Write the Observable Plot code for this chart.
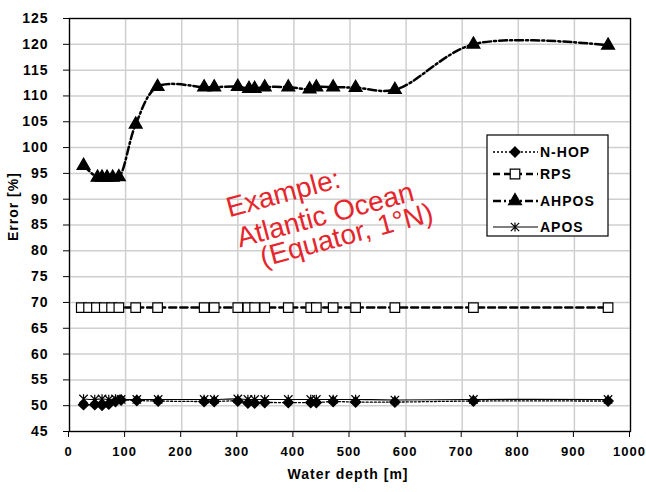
<!DOCTYPE html>
<html>
<head>
<meta charset="utf-8">
<script src="https://cdn.jsdelivr.net/npm/d3@7"></script>
<script src="https://cdn.jsdelivr.net/npm/@observablehq/plot@0.6"></script>
<style>
  html, body { margin: 0; padding: 0; background: white; }
  #chart { position: relative; width: 646px; height: 492px; }
  #chart svg { letter-spacing: 1px; }
  #chart g[fill="#e5262d"] { letter-spacing: 0; font-weight: normal; }
</style>
</head>
<body>
<div id="chart"></div>
<script>
// ---- data ----
const xTicks = [0, 100, 200, 300, 400, 500, 600, 700, 800, 900, 1000];
const yTicks = [45, 50, 55, 60, 65, 70, 75, 80, 85, 90, 95, 100, 105, 110, 115, 120, 125];

const nhopDepth = [25, 45, 58, 70, 82, 92, 120, 158, 240, 258, 300, 318, 330, 348, 390, 430, 440, 470, 510, 580, 720, 960];
const nhopError = [50.2, 50.2, 50.1, 50.3, 50.8, 51.1, 51.0, 50.9, 50.8, 50.8, 50.9, 50.5, 50.5, 50.6, 50.6, 50.6, 50.6, 50.8, 50.7, 50.7, 50.9, 50.9];

const rpsDepth = [21, 34, 48, 62, 75, 88, 118, 157, 240, 258, 300, 318, 330, 348, 390, 430, 440, 470, 510, 580, 720, 960];
const rpsError = [69, 69, 69, 69, 69, 69, 69, 69, 69, 69, 69, 69, 69, 69, 69, 69, 69, 69, 69, 69, 69, 69];

const ahposDepth = [25, 50, 58, 67, 77, 88, 118, 157, 240, 258, 300, 320, 330, 348, 390, 428, 440, 470, 510, 580, 720, 960];
const ahposError = [96.5, 94.2, 94.2, 94.2, 94.2, 94.3, 104.5, 111.8, 111.7, 111.7, 111.8, 111.4, 111.4, 111.7, 111.7, 111.3, 111.7, 111.7, 111.6, 111.2, 120.0, 119.8];

const aposDepth = [25, 45, 58, 70, 82, 92, 120, 158, 240, 258, 300, 318, 330, 348, 390, 430, 440, 470, 510, 580, 720, 960];
const aposError = [51.3, 51.2, 51.3, 51.2, 51.3, 51.2, 51.2, 51.2, 51.2, 51.2, 51.3, 51.2, 51.2, 51.2, 51.2, 51.2, 51.2, 51.2, 51.2, 51.1, 51.2, 51.2];

const seriesNames = ["N-HOP", "RPS", "AHPOS", "APOS"];

const xTitle = "Water depth [m]";
const yTitle = "Error [%]";

const noteText = ["Example:", "Atlantic Ocean", "(Equator, 1°N)"];
const noteDepth = [381, 456, 494];
const noteError = [91.1, 86.9, 83.0];

// ---- build tables ----
const toRows = (xs, ys) => xs.map((d, i) => ({depth: d, error: ys[i]}));
const nhop = toRows(nhopDepth, nhopError);
const rps = toRows(rpsDepth, rpsError);
const ahpos = toRows(ahposDepth, ahposError);
const apos = toRows(aposDepth, aposError);
const notes = noteText.map((t, i) => ({text: t, depth: noteDepth[i], error: noteError[i]}));

const asterisk = {
  draw(ctx, size) {
    const r = Math.sqrt(size / Math.PI);
    ctx.moveTo(-r, -r); ctx.lineTo(r, r);
    ctx.moveTo(-r, r); ctx.lineTo(r, -r);
    ctx.moveTo(0, -r * 1.1); ctx.lineTo(0, r * 1.1);
  }
};

const styles = [
  {data: nhop, dash: "2,2", width: 1.3, symbol: "diamond2", fill: "black", stroke: "black", r: 4.6},
  {data: rps, dash: "7,4", width: 2.5, symbol: "square", fill: "white", stroke: "black", r: 5.4},
  {data: ahpos, dash: "8,3,2,3", width: 2.5, symbol: "triangle", fill: "black", stroke: "black", r: 4.8},
  {data: apos, dash: null, width: 1.2, symbol: asterisk, fill: "none", stroke: "black", r: 4.2}
];

const curve = "catmull-rom";
const marks = [
  Plot.gridX(xTicks, {stroke: "#cfcfcf", strokeOpacity: 1, strokeWidth: 1.5}),
  Plot.gridY(yTicks, {stroke: "#cfcfcf", strokeOpacity: 1, strokeWidth: 1.5}),
  Plot.axisX(xTicks, {tickSize: 6, tickPadding: 9, tickFormat: d => String(d), label: null, fontSize: 13, dx: -1, fontWeight: "bold"}),
  Plot.axisY(yTicks, {tickSize: 6, tickPadding: 15, tickFormat: d => String(d), label: null, fontSize: 14, fontWeight: "bold"}),
  Plot.text([yTitle], {frameAnchor: "left", rotate: -90, dx: -56, dy: 16, fontSize: 14, fontWeight: "bold", fill: "black"}),
  Plot.text([xTitle], {frameAnchor: "bottom", dy: 47, dx: -2, fontSize: 14, fontWeight: "bold", fill: "black"})
];
for (const s of styles) {
  marks.push(Plot.line(s.data, {x: "depth", y: "error", curve, stroke: "black", strokeWidth: s.width, strokeDasharray: s.dash}));
}
for (const s of styles) {
  marks.push(Plot.dot(s.data, {x: "depth", y: "error", symbol: () => s.symbol, r: s.r, fill: s.fill, stroke: s.stroke, strokeWidth: 1.2}));
}
marks.push(Plot.text(notes, {x: "depth", y: "error", text: "text", rotate: -15, fill: "#e5262d", fontSize: 28, fontWeight: "normal", fontFamily: "Liberation Sans, Arial, sans-serif"}));
marks.push(Plot.frame({stroke: "black", strokeWidth: 1.3}));

const chart = Plot.plot({
  width: 646,
  height: 492,
  marginLeft: 69,
  marginRight: 16,
  marginTop: 18,
  marginBottom: 61,
  x: {domain: [0, 1000]},
  y: {domain: [45, 125]},
  symbol: {type: "identity"},
  style: {fontFamily: "Liberation Sans, Arial, sans-serif", fontSize: "14px", fontWeight: "bold", background: "white", color: "black"},
  marks
});
document.getElementById("chart").appendChild(chart);

// ---- legend (inside the plot area, top-right) ----
const svg = d3.select(chart);
const lg = svg.append("g").attr("transform", "translate(487,135)");
lg.append("rect").attr("width", 121).attr("height", 101).attr("fill", "white").attr("stroke", "black").attr("stroke-width", 1.2);
const rowY = [17, 39, 66, 92];
styles.forEach((s, i) => {
  const g = lg.append("g").attr("transform", `translate(0,${rowY[i]})`);
  g.append("line").attr("x1", 6).attr("x2", 51).attr("stroke", "black")
    .attr("stroke-width", s.width).attr("stroke-dasharray", s.dash);
  const symType = typeof s.symbol === "string"
    ? {diamond2: d3.symbolDiamond2, square: d3.symbolSquare, triangle: d3.symbolTriangle}[s.symbol]
    : s.symbol;
  g.append("path").attr("transform", "translate(28,0)")
    .attr("d", d3.symbol(symType, Math.PI * s.r * s.r)())
    .attr("fill", s.fill).attr("stroke", s.stroke).attr("stroke-width", 1.2);
  g.append("text").attr("x", 53).attr("dy", "0.35em").attr("text-anchor", "start")
    .attr("font-size", 14).attr("font-weight", "bold")
    .attr("fill", "black").text(seriesNames[i]);
});
</script>
</body>
</html>
